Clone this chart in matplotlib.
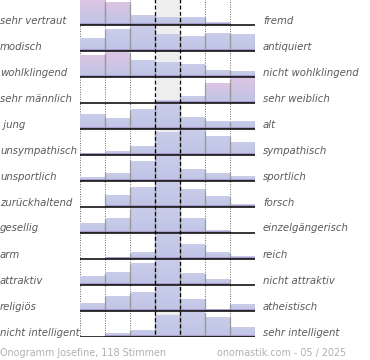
import numpy as np
import matplotlib
matplotlib.use("Agg")
import matplotlib.pyplot as plt
import matplotlib.transforms as mtransforms
from matplotlib.colors import to_rgb

left_labels = ["sehr vertraut", "modisch", "wohlklingend", "sehr männlich", " jung",
               "unsympathisch", "unsportlich", "zurückhaltend", "gesellig", "arm",
               "attraktiv", "religiös", "nicht intelligent"]
right_labels = ["fremd", "antiquiert", "nicht wohlklingend", "sehr weiblich", "alt",
                "sympathisch", "sportlich", "forsch", "einzelgängerisch", "reich",
                "nicht attraktiv", "atheistisch", "sehr intelligent"]

# relative share per column (row maximum = 100)
values = [
    [100, 90, 40, 32, 32, 10, 0],
    [52, 89, 100, 69, 59, 73, 69],
    [89, 100, 66, 60, 50, 27, 23],
    [0, 0, 0, 11, 26, 81, 100],
    [59, 41, 79, 100, 46, 30, 30],
    [8, 13, 35, 93, 100, 76, 53],
    [16, 32, 80, 100, 48, 32, 20],
    [0, 48, 81, 100, 70, 42, 11],
    [37, 58, 100, 100, 59, 12, 0],
    [0, 8, 25, 100, 58, 25, 12],
    [35, 49, 86, 100, 45, 24, 0],
    [32, 61, 74, 100, 47, 7, 28],
    [0, 16, 28, 86, 100, 81, 40],
]
highlight = {(0, 0), (0, 1), (2, 0), (2, 1), (3, 5), (3, 6)}

footer_left = "Onogramm Josefine, 118 Stimmen"
footer_right = "onomastik.com - 05 / 2025"

W, H = 370, 360
fig = plt.figure(figsize=(W / 100, H / 100), dpi=100)
fig.patch.set_facecolor("white")
ax = fig.add_axes([80 / W, 23 / H, 175 / W, 338 / H])
ax.set_xlim(0, 7)
ax.set_ylim(13, 0)
ax.axis("off")

nrows = len(values)
scale = 0.942 / 100.0
px = 1 / 26.0  # one pixel in row units

# centre band
ax.axvspan(3, 4, color="#eeeeee", zorder=0)

blue_top = np.array(to_rgb("#c9cdea"))
blue_bot = np.array(to_rgb("#bfc4e6"))
pink_top = np.array(to_rgb("#dcc5e4"))
band = "#a99dcb"

for i, row in enumerate(values):
    base = i + 1
    for j, v in enumerate(row):
        h = v * scale
        if h <= 0:
            continue
        top = base - h
        if (i, j) in highlight:
            c_top, c_bot = pink_top, blue_bot
        else:
            c_top, c_bot = blue_top, blue_bot
        t = np.linspace(0, 1, 32)[:, None]
        grad = c_top[None, :] * (1 - t) + c_bot[None, :] * t
        img = grad[:, None, :]
        ax.imshow(img, extent=[j, j + 1, base, top], aspect="auto",
                  interpolation="bilinear", zorder=2)
        ax.fill_between([j, j + 1], base - min(h, 2.2 * px), base,
                        color=band, lw=0, zorder=2.5)
        ax.vlines([j + 1], top, base, colors="#9a9a9a", lw=0.9, zorder=3)
        if j > 0:
            ax.vlines([j], top, base, colors="#9a9a9a", lw=0.9, zorder=3)

# grid lines
for x in [0, 1, 2, 5, 6, 7]:
    ax.vlines(x, 0, nrows, colors="#666666", lw=0.7, linestyles=(0, (1, 1.5)), zorder=1)
for x in [3, 4]:
    ax.vlines(x, 0, nrows, colors="black", lw=0.9, linestyles=(0, (3, 2)), zorder=4)

# baselines
for i in range(nrows):
    ax.hlines(i + 1, 0, 7, colors="black", lw=1.1, zorder=5)

ax.set_xlim(0, 7)
ax.set_ylim(13, 0)

trans = mtransforms.blended_transform_factory(fig.transFigure, ax.transData)
for i in range(nrows):
    y = i + 1 - 1.5 * px
    ax.text(0.0, y, left_labels[i], transform=trans, ha="left", va="baseline",
            fontsize=7.3, style="italic", color="#5a5a5a", family="DejaVu Sans")
    ax.text(263 / W, y, right_labels[i], transform=trans, ha="left", va="baseline",
            fontsize=7.3, style="italic", color="#5a5a5a", family="DejaVu Sans")

fig.text(0.0, 1 - 356 / H, footer_left, ha="left", va="baseline",
         fontsize=6.9, color="#b0b0b0", family="DejaVu Sans")
fig.text(346 / W, 1 - 356 / H, footer_right, ha="right", va="baseline",
         fontsize=6.9, color="#b0b0b0", family="DejaVu Sans")

fig.savefig("out.png", dpi=100)
